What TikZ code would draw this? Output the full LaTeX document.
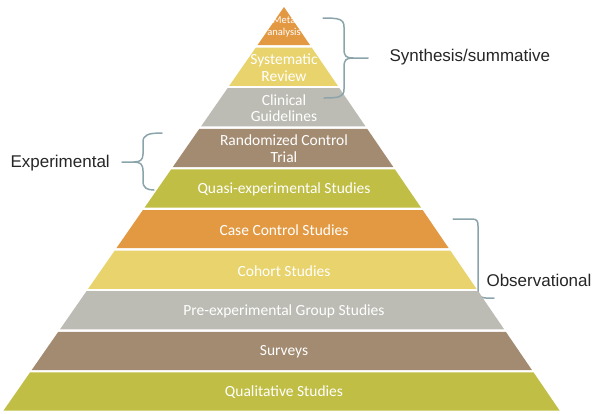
\documentclass[tikz,border=0pt]{standalone}
\usepackage{fontspec}
\setmainfont{Liberation Sans}
\newfontfamily\carlito{Carlito}
\usepackage{xcolor}

\definecolor{pyrorange}{RGB}{227,153,66}
\definecolor{pyryellow}{RGB}{232,211,108}
\definecolor{pyrgray}{RGB}{188,188,181}
\definecolor{pyrbrown}{RGB}{163,139,113}
\definecolor{pyrolive}{RGB}{192,190,69}
\definecolor{bracegray}{RGB}{139,164,172}

\begin{document}
\begin{tikzpicture}[x=1pt,y=-1pt,
    layer text/.style={text=white,align=center,inner sep=0pt},
    side label/.style={anchor=west,text=black!85,font=\fontsize{17}{20}\selectfont},
    brace line/.style={draw=bracegray,line width=1.5pt,line cap=round}]
    \useasboundingbox (0,0) rectangle (594,413);

    % observational bracket sits behind the pyramid
    \draw[brace line] (453,219) -- (472,219) .. controls (477,219) and (478,221) .. (478,226)
        -- (478,289) .. controls (478,296) and (481,298) .. (486,298) -- (494,298);

    % the layers, top to bottom
    \foreach \i/\col/\fs/\txt in {0/pyrorange/10.5/{Meta\\analysis},
                                  1/pyryellow/15.5/{Systematic\\Review},
                                  2/pyrgray/15.5/{Clinical\\Guidelines},
                                  3/pyrbrown/15.5/{Randomized Control\\Trial},
                                  4/pyrolive/15.5/{Quasi-experimental Studies},
                                  5/pyrorange/15.5/{Case Control Studies},
                                  6/pyryellow/15.5/{Cohort Studies},
                                  7/pyrgray/15.5/{Pre-experimental Group Studies},
                                  8/pyrbrown/15.5/{Surveys},
                                  9/pyrolive/15.5/{Qualitative Studies}}
    {
        \pgfmathsetmacro{\yt}{7+40.6*\i}
        \pgfmathsetmacro{\yb}{\yt+38.2}
        \pgfmathsetmacro{\ld}{1.08*\fs}
        \fill[\col] ({284-0.695*(\yt-7)},\yt) -- ({284+0.683*(\yt-7)},\yt)
            -- ({284+0.683*(\yb-7)},\yb) -- ({284-0.695*(\yb-7)},\yb) -- cycle;
        \node[layer text,font=\carlito\fontsize{\fs}{\ld}\selectfont] (L\i) at (284,{(\yt+\yb)/2+1}) {\txt};
    }

    \node[side label] (synth) at (386,57) {Synthesis/summative};
    \node[side label] (exper) at (7,163) {Experimental};
    \node[side label] (obser) at (483,280) {Observational};

    % braces
    \draw[brace line] (323,18) .. controls (339,18) and (344,19) .. (344,27) -- (344,49)
        .. controls (344,56) and (346,58) .. (353,58) -- (368,58);
    \draw[brace line] (353,58) .. controls (346,58) and (344,60) .. (344,67) -- (344,89)
        .. controls (344,97) and (339,98) .. (324,98);
    \draw[brace line] (162,133) .. controls (148,133) and (143,135) .. (143,142) -- (143,154)
        .. controls (143,160) and (140,162) .. (134,162) -- (122,162);
    \draw[brace line] (134,162) .. controls (140,162) and (143,164) .. (143,171) -- (143,181)
        .. controls (143,188) and (147,190) .. (154,190);
\end{tikzpicture}
\end{document}
